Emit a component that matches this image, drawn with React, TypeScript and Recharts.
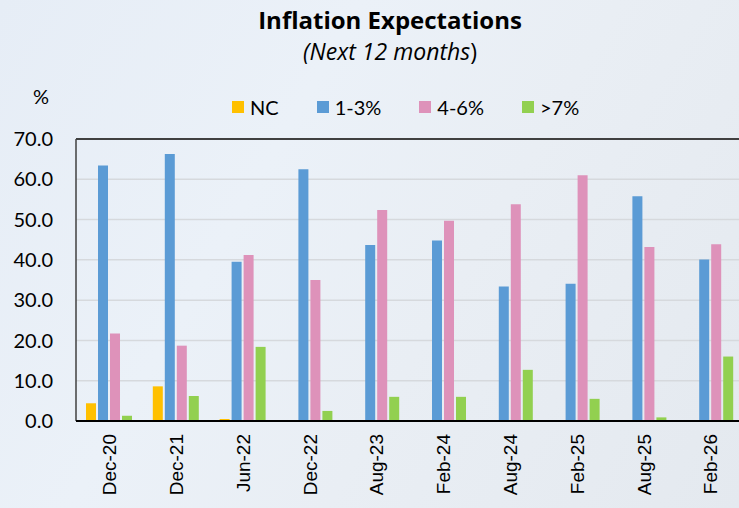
import {
  BarChart,
  Bar,
  XAxis,
  YAxis,
  CartesianGrid,
  ReferenceLine,
} from "recharts";

const categories = [
  "Dec-20", "Dec-21", "Jun-22", "Dec-22", "Aug-23",
  "Feb-24", "Aug-24", "Feb-25", "Aug-25", "Feb-26",
];

const nc =     [4.4, 8.6, 0.5, 0, 0, 0, 0, 0, 0, 0];
const low =    [63.4, 66.3, 39.5, 62.5, 43.7, 44.8, 33.4, 34.1, 55.8, 40.1];
const mid =    [21.7, 18.7, 41.2, 35.0, 52.4, 49.7, 53.8, 61.0, 43.2, 43.9];
const high =   [1.3, 6.2, 18.4, 2.5, 6.0, 6.0, 12.7, 5.5, 0.9, 16.0];

const yTicks = [0, 10, 20, 30, 40, 50, 60, 70];

const SERIES = [
  { key: "nc", label: "NC", color: "#FFC000" },
  { key: "low", label: "1-3%", color: "#5B9BD5" },
  { key: "mid", label: "4-6%", color: "#DE92BA" },
  { key: "high", label: ">7%", color: "#92D050" },
];

const data = categories.map((cat, i) => ({
  cat,
  nc: nc[i],
  low: low[i],
  mid: mid[i],
  high: high[i],
}));

const FONT = "Lato, 'Open Sans', sans-serif";
const TITLE_FONT = "'Open Sans', Lato, sans-serif";

function DateTick({ x, y, payload }: any) {
  return (
    <g transform={`translate(${x},${y + 11})`}>
      <text
        transform="rotate(-90)"
        textAnchor="end"
        dy="0.36em"
        fontFamily="'Liberation Sans', Arial, sans-serif"
        fontSize={19}
        fill="#000"
      >
        {payload.value}
      </text>
    </g>
  );
}

export default function App() {
  return (
    <div
      style={{
        position: "absolute",
        left: 0,
        top: 0,
        width: 739,
        height: 508,
        overflow: "hidden",
        background:
          "linear-gradient(120deg, #e6edf6 0%, #ebf1f8 35%, #e9eef4 60%, #e4e9ef 100%)",
        fontFamily: FONT,
      }}
    >
      {/* Title */}
      <div
        style={{
          position: "absolute",
          top: 3,
          left: 0,
          width: 780,
          textAlign: "center",
          fontSize: 24,
          fontWeight: 700,
          fontFamily: TITLE_FONT,
          color: "#000",
        }}
      >
        Inflation Expectations
      </div>
      <div
        style={{
          position: "absolute",
          top: 35,
          left: 0,
          width: 780,
          textAlign: "center",
          fontSize: 23,
          fontStyle: "italic",
          fontFamily: TITLE_FONT,
          color: "#000",
        }}
      >
        (Next 12 months<span style={{ fontStyle: "normal" }}>)</span>
      </div>
      <div style={{ position: "absolute", top: 84, left: 33, fontSize: 20 }}>%</div>

      {/* Legend */}
      <div
        style={{
          position: "absolute",
          top: 95,
          left: 232,
          display: "flex",
          alignItems: "center",
          fontSize: 20,
        }}
      >
        {SERIES.map((s, i) => (
          <div
            key={s.key}
            style={{
              display: "flex",
              alignItems: "center",
              marginRight: i < SERIES.length - 1 ? 38 : 0,
            }}
          >
            <span
              style={{
                width: 12,
                height: 12,
                background: s.color,
                marginRight: 6,
                display: "inline-block",
              }}
            />
            <span>{s.label}</span>
          </div>
        ))}
      </div>

      <div style={{ position: "absolute", left: 0, top: 0 }}>
        <BarChart
          width={744}
          height={508}
          data={data}
          margin={{ top: 139, right: 0, bottom: 0, left: 0 }}
          barGap={2}
          barSize={10}
        >
          <CartesianGrid vertical={false} stroke="#d6d9dd" strokeWidth={1.5} />
          <YAxis
            width={76}
            domain={[0, 70]}
            ticks={yTicks}
            interval={0}
            tickFormatter={(v: number) => v.toFixed(1)}
            tickLine={false}
            tickSize={0}
            tickMargin={23}
            axisLine={{ stroke: "#404040", strokeWidth: 1.5 }}
            tick={{ fill: "#000", fontSize: 20, fontFamily: FONT }}
          />
          <XAxis
            dataKey="cat"
            height={87}
            interval={0}
            tickLine={false}
            tickSize={0}
            axisLine={{ stroke: "#000", strokeWidth: 2 }}
            tick={<DateTick />}
          />
          <ReferenceLine y={70} stroke="#404040" strokeWidth={2} />
          {SERIES.map((s) => (
            <Bar
              key={s.key}
              dataKey={s.key}
              fill={s.color}
              isAnimationActive={false}
            />
          ))}
        </BarChart>
      </div>
    </div>
  );
}
